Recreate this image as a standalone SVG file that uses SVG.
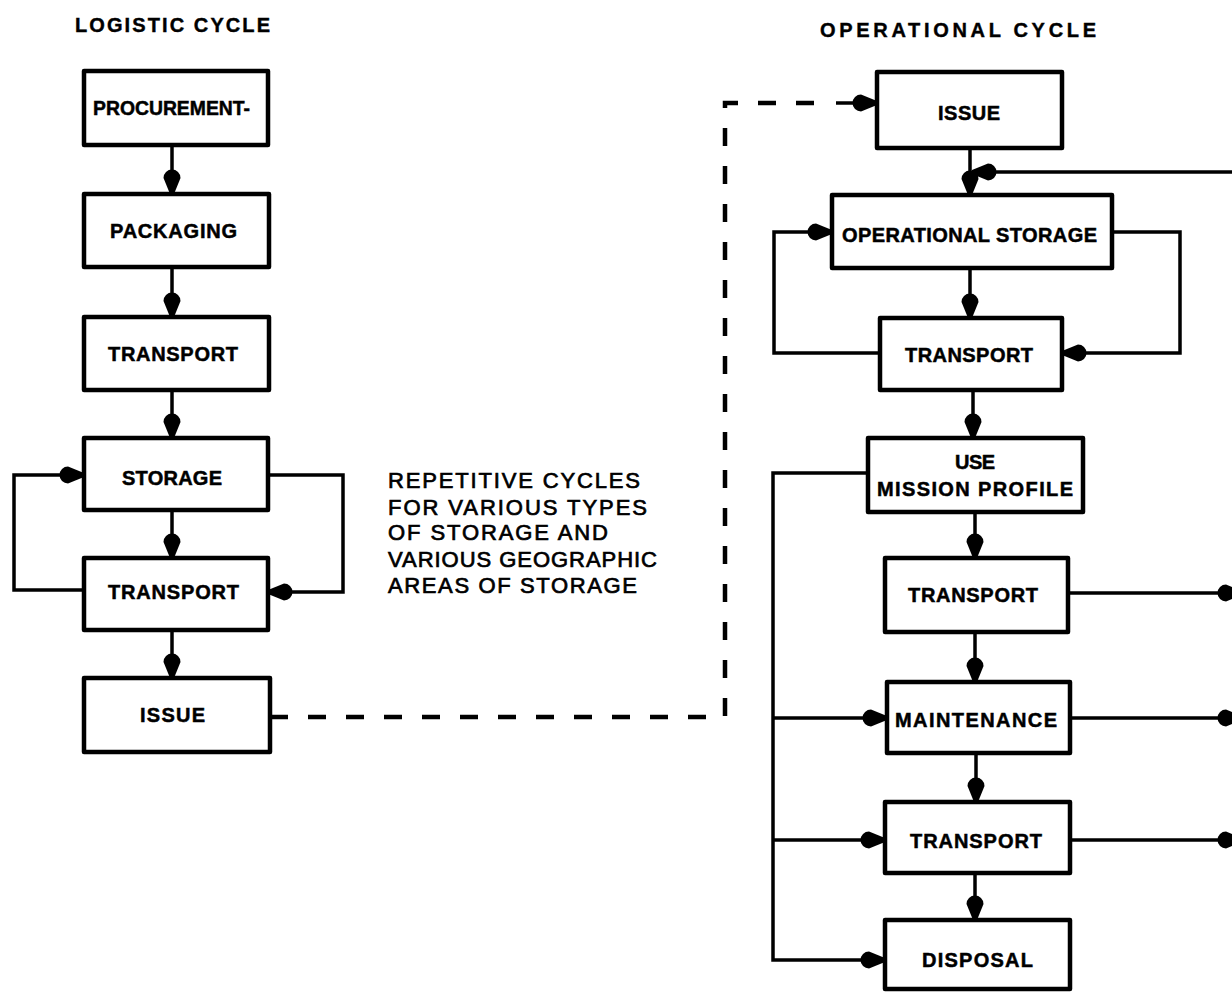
<svg xmlns="http://www.w3.org/2000/svg" width="1232" height="992" viewBox="0 0 1232 992">
<style>
.box{fill:#fff;stroke:#000;stroke-width:4.5;stroke-linejoin:round}
.lbl{font-family:"Liberation Sans",Arial,sans-serif;font-weight:bold;font-size:20px;fill:#000;stroke:#000;stroke-width:0.5}
.ttl{font-family:"Liberation Sans",Arial,sans-serif;font-weight:bold;font-size:20px;fill:#000;stroke:#000;stroke-width:0.4}
.note{font-family:"Liberation Sans",Arial,sans-serif;font-size:22px;fill:#000;stroke:#000;stroke-width:0.7}
.ln{fill:none;stroke:#000;stroke-width:3.5;stroke-linejoin:miter}
.arr{marker-end:url(#ah)}
.dash{fill:none;stroke:#000;stroke-width:4.5;stroke-dasharray:18 20;stroke-linecap:butt}
</style>
<defs>
<marker id="ah" markerUnits="userSpaceOnUse" viewBox="0 -10 26 20" markerWidth="26" markerHeight="20" refX="25" refY="0" orient="auto" overflow="visible">
<path d="M25,-2 L25,2 L9,8.5 A8.5,8.5 0 0 1 9,-8.5 Z" fill="#000"/>
</marker>
</defs>
<rect width="1232" height="992" fill="#fff"/>

<text class="ttl" x="75" y="32" textLength="195" lengthAdjust="spacing">LOGISTIC CYCLE</text>
<text class="ttl" x="820" y="37" textLength="276" lengthAdjust="spacing">OPERATIONAL CYCLE</text>

<g id="connectors">
<!-- logistic column -->
<path class="ln arr" d="M172,145 V194"/>
<path class="ln arr" d="M172,267 V317"/>
<path class="ln arr" d="M172,390 V438"/>
<path class="ln arr" d="M172,510 V558"/>
<path class="ln arr" d="M172,630 V678"/>
<path class="ln arr" d="M84,590 H14 V475 H84"/>
<path class="ln arr" d="M268,475 H343 V592 H268"/>
<!-- dashed link -->
<path class="dash" d="M270,717 H725 V103 H830"/>
<path class="ln arr" d="M836,103 H877"/>
<!-- operational column -->
<path class="ln arr" d="M970,148 V195"/>
<path class="ln arr" d="M1232,172 H972"/>
<path class="ln arr" d="M970,268 V318"/>
<path class="ln arr" d="M880,353 H774 V232 H832"/>
<path class="ln arr" d="M1112,232 H1180 V353 H1062"/>
<path class="ln arr" d="M973,390 V438"/>
<path class="ln arr" d="M975,512 V558"/>
<path class="ln arr" d="M975,632 V682"/>
<path class="ln arr" d="M976,753 V802"/>
<path class="ln arr" d="M975,873 V920"/>
<path class="ln arr" d="M868,473 H773 V960 H885"/>
<path class="ln arr" d="M773,718 H887"/>
<path class="ln arr" d="M773,840 H885"/>
<path class="ln arr" d="M1068,593 H1242"/>
<path class="ln arr" d="M1070,718 H1242"/>
<path class="ln arr" d="M1070,840 H1242"/>
</g>

<g id="n-procurement"><rect class="box" x="84" y="71" width="184" height="74"/><text class="lbl" x="93" y="115" textLength="157" lengthAdjust="spacingAndGlyphs">PROCUREMENT-</text></g>
<g id="n-packaging"><rect class="box" x="84" y="194" width="185" height="73"/><text class="lbl" x="110" y="238" textLength="127" lengthAdjust="spacing">PACKAGING</text></g>
<g id="n-transport-l1"><rect class="box" x="84" y="317" width="185" height="73"/><text class="lbl" x="108" y="361" textLength="130" lengthAdjust="spacing">TRANSPORT</text></g>
<g id="n-storage"><rect class="box" x="84" y="438" width="184" height="72"/><text class="lbl" x="122" y="485" textLength="100" lengthAdjust="spacing">STORAGE</text></g>
<g id="n-transport-l2"><rect class="box" x="84" y="558" width="184" height="72"/><text class="lbl" x="108" y="599" textLength="131" lengthAdjust="spacing">TRANSPORT</text></g>
<g id="n-issue-l"><rect class="box" x="84" y="678" width="186" height="74"/><text class="lbl" x="140" y="722" textLength="65" lengthAdjust="spacing">ISSUE</text></g>

<g id="note">
<text class="note" x="388" y="488" textLength="252" lengthAdjust="spacing">REPETITIVE CYCLES</text>
<text class="note" x="388" y="515" textLength="259" lengthAdjust="spacing">FOR VARIOUS TYPES</text>
<text class="note" x="388" y="540" textLength="220" lengthAdjust="spacing">OF STORAGE AND</text>
<text class="note" x="388" y="567" textLength="269" lengthAdjust="spacing">VARIOUS GEOGRAPHIC</text>
<text class="note" x="388" y="593" textLength="249" lengthAdjust="spacing">AREAS OF STORAGE</text>
</g>

<g id="n-issue-r"><rect class="box" x="877" y="72" width="185" height="76"/><text class="lbl" x="938" y="120" textLength="62" lengthAdjust="spacing">ISSUE</text></g>
<g id="n-opstorage"><rect class="box" x="832" y="195" width="280" height="73"/><text class="lbl" x="842" y="242" textLength="255" lengthAdjust="spacing">OPERATIONAL STORAGE</text></g>
<g id="n-transport-r1"><rect class="box" x="880" y="318" width="182" height="72"/><text class="lbl" x="905" y="362" textLength="128" lengthAdjust="spacing">TRANSPORT</text></g>
<g id="n-use"><rect class="box" x="868" y="438" width="215" height="74"/><text class="lbl" x="955" y="469" textLength="40" lengthAdjust="spacing">USE</text><text class="lbl" x="877" y="496" textLength="196" lengthAdjust="spacing">MISSION PROFILE</text></g>
<g id="n-transport-r2"><rect class="box" x="885" y="558" width="183" height="74"/><text class="lbl" x="908" y="602" textLength="130" lengthAdjust="spacing">TRANSPORT</text></g>
<g id="n-maintenance"><rect class="box" x="887" y="682" width="183" height="71"/><text class="lbl" x="895" y="727" textLength="162" lengthAdjust="spacing">MAINTENANCE</text></g>
<g id="n-transport-r3"><rect class="box" x="885" y="802" width="185" height="71"/><text class="lbl" x="910" y="848" textLength="132" lengthAdjust="spacing">TRANSPORT</text></g>
<g id="n-disposal"><rect class="box" x="885" y="920" width="185" height="69"/><text class="lbl" x="922" y="967" textLength="111" lengthAdjust="spacing">DISPOSAL</text></g>
</svg>
